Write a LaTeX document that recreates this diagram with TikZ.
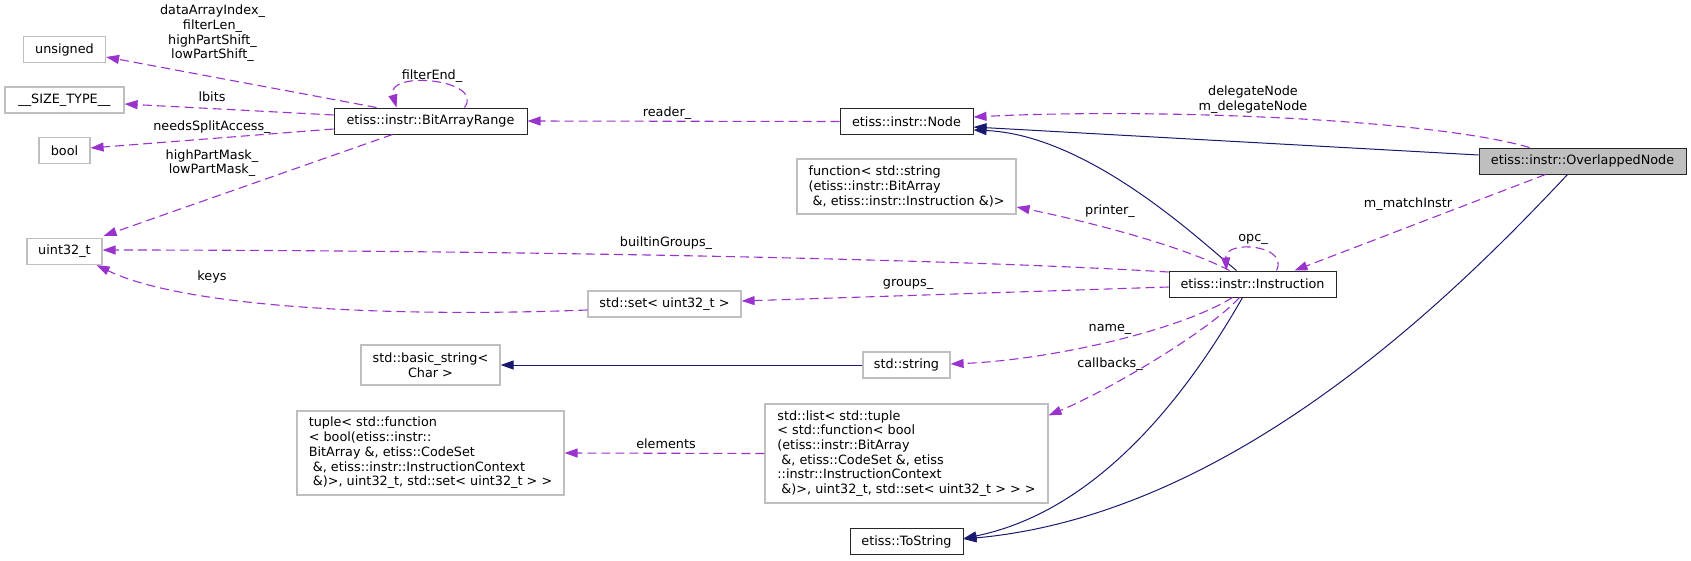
\documentclass[tikz,border=0pt]{standalone}
\usepackage{fontspec}
\setmainfont{DejaVu Sans}
\usepackage{tikz}
\usetikzlibrary{arrows.meta,calc}
\definecolor{membcol}{HTML}{9A32CD}
\definecolor{inhcol}{HTML}{191970}
\definecolor{extcol}{HTML}{BFBFBF}
\newcommand{\lsp}{\hspace*{0.32em}}

\begin{document}
\begin{tikzpicture}[
  x=1pt, y=-1pt,
  font=\fontsize{12.8}{14.7}\selectfont,
  cls/.style={draw=black!85, line width=1pt, fill=white, inner sep=0pt,
              align=center, minimum height=26pt},
  ext/.style={cls, draw=extcol, line width=1.2pt},
  lbl/.style={inner sep=0pt, align=center},
  memb/.style={draw=membcol, line width=1.1pt, dash pattern=on 9pt off 5pt,
               -{Triangle[length=13pt,width=9pt,fill=membcol]}},
  inh/.style={draw=inhcol, line width=1pt,
              -{Triangle[length=13pt,width=9pt,fill=inhcol]}},
]
\useasboundingbox (0,0) rectangle (1691,560);

\node[ext, minimum width=82pt] (uns) at (64.5,49.5) {unsigned};
\node[ext, minimum width=119pt] (sz) at (64.5,100) {\_\_SIZE\_TYPE\_\_};
\node[ext, minimum width=51pt] (bool) at (64.5,150.5) {bool};
\node[ext, minimum width=75pt] (u32) at (64.5,251.5) {uint32\_t};
\node[cls, minimum width=193pt] (bar) at (430.5,121) {etiss::instr::BitArrayRange};
\node[ext, minimum width=139pt, minimum height=40pt] (bstr) at (430.5,365)
      {std::basic\_string<\\Char >};
\node[ext, minimum width=267pt, minimum height=84pt, align=left] (tup) at (430.5,453)
      {tuple< std::function\\< bool(etiss::instr::\\BitArray \&, etiss::CodeSet\\
       \lsp\&, etiss::instr::InstructionContext\\
       \lsp\&)>, uint32\_t, std::set< uint32\_t > >};
\node[ext, minimum width=153pt] (set) at (664.5,304) {std::set< uint32\_t >};
\node[cls, minimum width=133pt] (nd) at (906.5,121.5) {etiss::instr::Node};
\node[ext, minimum width=219pt, minimum height=55pt, align=left] (fn) at (906.5,186.5)
      {function< std::string\\(etiss::instr::BitArray\\
       \lsp\&, etiss::instr::Instruction \&)>};
\node[ext, minimum width=87pt] (str) at (906.5,365) {std::string};
\node[ext, minimum width=283pt, minimum height=99pt, align=left] (lst) at (906.5,453.5)
      {std::list< std::tuple\\< std::function< bool\\(etiss::instr::BitArray\\
       \lsp\&, etiss::CodeSet \&, etiss\\::instr::InstructionContext\\
       \lsp\&)>, uint32\_t, std::set< uint32\_t > > >};
\node[cls, minimum width=113pt] (tostr) at (906.5,541.5) {etiss::ToString};
\node[cls, minimum width=167pt] (ins) at (1252.5,284) {etiss::instr::Instruction};
\node[cls, fill=extcol, minimum width=207pt] (ovl) at (1582.5,161)
      {etiss::instr::OverlappedNode};

\draw[memb] ($(bar.north west)+(43,0)$) -- ($(uns.east)+(0,7.5)$);
\draw[memb] ($(bar.west)+(0,-6)$) -- ($(sz.east)+(0,4)$);
\draw[memb] ($(bar.west)+(0,8)$) -- ($(bool.east)+(0,-2.5)$);
\draw[memb] ($(bar.south west)+(59,0)$) -- ($(u32.north east)+(1,-2)$);
\draw[memb] ($(bar.north west)+(131,0)$) .. controls +(21,-28) and +(-11,-38)
      .. ($(bar.north west)+(63,0)$);
\draw[memb] (nd.west) -- (bar.east);
\draw[memb] ($(ovl.north west)+(51,0)$) .. controls +(-100,-29) and +(177,-9)
      .. ($(nd.east)+(0,-4.5)$);
\draw[inh] ($(ovl.west)+(0,-6)$) -- ($(nd.east)+(0,5.5)$);
\draw[inh] ($(ins.north west)+(68,0)$) .. controls +(-32,-26) and +(117,5)
      .. ($(nd.east)+(0,8.5)$);
\draw[memb] ($(ins.north west)+(61,0)$) .. controls +(-50,-26) and +(64,13)
      .. ($(fn.east)+(0,20.5)$);
\draw[memb] ($(ins.north west)+(108,0)$) .. controls +(13,-26) and +(-2,-31)
      .. ($(ins.north west)+(58,0)$);
\draw[memb] ($(ovl.south west)+(67,0)$) -- ($(ins.north west)+(126,0)$);
\draw[memb] ($(ins.west)+(0,-12)$) .. controls +(-269,-16) and +(298,0)
      .. ($(u32.east)+(0,-1.5)$);
\draw[memb] ($(ins.west)+(0,3)$) -- ($(set.east)+(0,-3)$);
\draw[memb] ($(set.west)+(0,6)$) .. controls +(-208,8) and +(84,41)
      .. ($(u32.south east)+(-6,0)$);
\draw[memb] ($(ins.south west)+(64,0)$) .. controls +(-53,33) and +(100,-4)
      .. ($(str.east)+(0,-1)$);
\draw[memb] ($(ins.south west)+(71,0)$) .. controls +(-30,33) and +(62,-26)
      .. ($(lst.north east)+(0,12)$);
\draw[inh] (str.west) -- (bstr.east);
\draw[memb] (lst.west) -- (tup.east);
\draw[inh] ($(ins.south west)+(74,0)$) .. controls +(-53,93) and +(137,-28)
      .. ($(tostr.east)+(0,-3)$);
\draw[inh] ($(ovl.south west)+(89,0)$) .. controls +(-118,126) and +(267,-24)
      .. ($(tostr.east)+(0,-2.5)$);

\node[lbl] (l-uns) at (212.5,33.5)
      {dataArrayIndex\_\\filterLen\_\\highPartShift\_\\lowPartShift\_};
\node[lbl] (l-sz) at (212,97) {lbits};
\node[lbl] (l-bool) at (212,127) {needsSplitAccess\_};
\node[lbl] (l-u32) at (212,163) {highPartMask\_\\lowPartMask\_};
\node[lbl] (l-fe) at (432,76) {filterEnd\_};
\node[lbl] (l-keys) at (212,277) {keys};
\node[lbl] (l-rd) at (667,113) {reader\_};
\node[lbl] (l-bg) at (666,243) {builtinGroups\_};
\node[lbl] (l-grp) at (908,284) {groups\_};
\node[lbl] (l-pr) at (1110,211) {printer\_};
\node[lbl] (l-opc) at (1253,239) {opc\_};
\node[lbl] (l-mi) at (1408,204) {m\_matchInstr};
\node[lbl] (l-dn) at (1253,99.5) {delegateNode\\m\_delegateNode};
\node[lbl] (l-nm) at (1110,329) {name\_};
\node[lbl] (l-cb) at (1110,364) {callbacks\_};
\node[lbl] (l-el) at (666,444) {elements};
\end{tikzpicture}
\end{document}
